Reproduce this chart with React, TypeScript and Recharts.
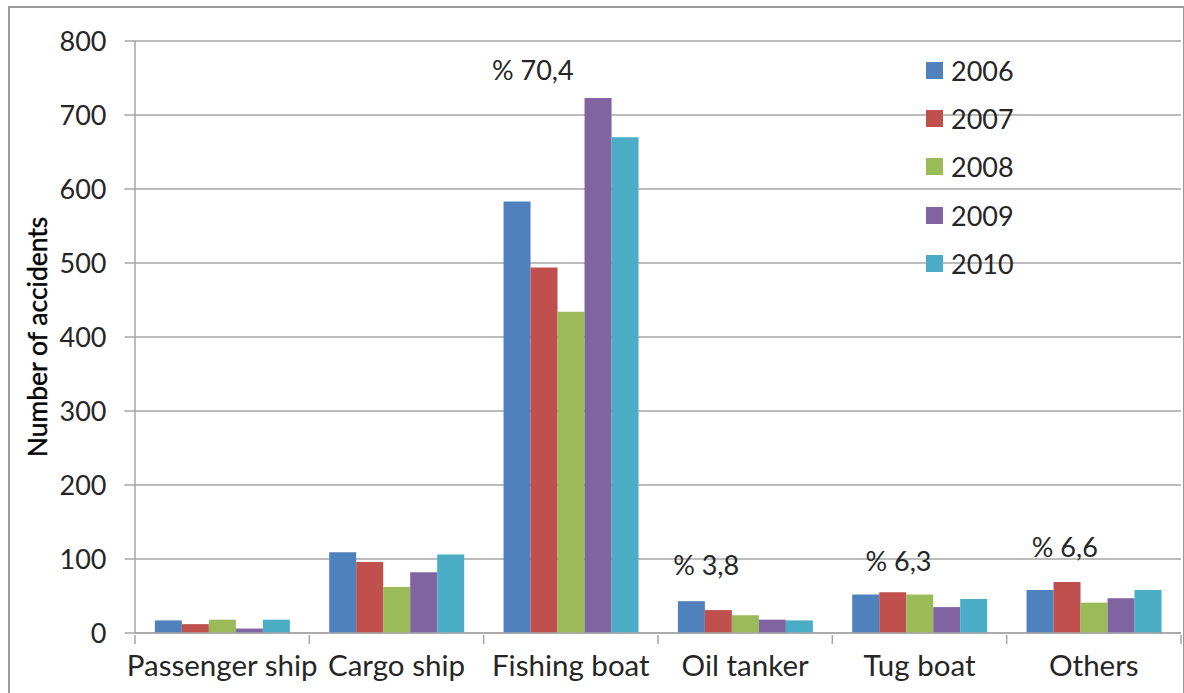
import React from 'react';
import {
  BarChart,
  Bar,
  XAxis,
  YAxis,
  CartesianGrid,
  Legend,
  ReferenceDot,
} from 'recharts';

// ship types on the category axis
const categories = ['Passenger ship', 'Cargo ship', 'Fishing boat', 'Oil tanker', 'Tug boat', 'Others'];

// accidents per year for each ship type
const years = ['2006', '2007', '2008', '2009', '2010'];
const acc2006 = [17, 109, 583, 43, 52, 58];
const acc2007 = [12, 96, 494, 31, 55, 69];
const acc2008 = [18, 62, 434, 24, 52, 41];
const acc2009 = [6, 82, 723, 18, 35, 47];
const acc2010 = [18, 106, 670, 17, 46, 58];

const yTicks = [0, 100, 200, 300, 400, 500, 600, 700, 800];

// share notes written above some groups
const noteCategories = ['Fishing boat', 'Oil tanker', 'Tug boat', 'Others'];
const noteTexts = ['% 70,4', '% 3,8', '% 6,3', '% 6,6'];

const series = [acc2006, acc2007, acc2008, acc2009, acc2010];
const colors = ['#4F81BD', '#C0504D', '#9BBB59', '#8064A2', '#4BACC6'];

// label placement relative to the tallest bar in the group
const noteShift = [
  { dx: -38, dy: -28 },
  { dx: -39, dy: -37 },
  { dx: -21, dy: -32 },
  { dx: -29, dy: -35 },
];

const FONT = 'Lato, "Open Sans", sans-serif';
const TEXT = '#262626';
const GRID = '#a6a6a6';

const data = categories.map((name, i) => {
  const row: Record<string, string | number> = { name };
  years.forEach((y, k) => {
    row[y] = series[k][i];
  });
  return row;
});

const groupMax = (cat: string) => {
  const i = categories.indexOf(cat);
  return Math.max(...series.map((s) => s[i]));
};

const CategoryTick = (props: any) => {
  const { x, y, payload, index } = props;
  const half = payload?.offset ?? 87;
  return (
    <g>
      <line x1={x - half} y1={y} x2={x - half} y2={y + 9} stroke={GRID} strokeWidth={1.5} />
      {index === categories.length - 1 && (
        <line x1={x + half} y1={y} x2={x + half} y2={y + 9} stroke={GRID} strokeWidth={1.5} />
      )}
      <text x={x} y={y + 41} textAnchor="middle" fill={TEXT} fontSize={29.5} fontFamily={FONT}>
        {payload.value}
      </text>
    </g>
  );
};

const YTitle = (props: any) => {
  const { viewBox } = props;
  const cx = 37;
  const cy = viewBox.y + viewBox.height / 2;
  return (
    <text
      x={cx}
      y={cy}
      transform={`rotate(-90, ${cx}, ${cy})`}
      textAnchor="middle"
      dominantBaseline="central"
      fill="#000"
      stroke="#000"
      strokeWidth={0.4}
      fontSize={26.5}
      fontFamily={FONT}
    >
      Number of accidents
    </text>
  );
};

const noteLabel = (text: string, dx: number, dy: number) => (props: any) => {
  const { viewBox } = props;
  return (
    <text
      x={viewBox.x + dx}
      y={viewBox.y + dy}
      textAnchor="middle"
      dominantBaseline="central"
      fill={TEXT}
      fontSize={27}
      fontFamily={FONT}
    >
      {text}
    </text>
  );
};

const LegendBox = (props: any) => {
  const { payload } = props;
  return (
    <div style={{ fontFamily: FONT }}>
      {(payload || []).map((entry: any) => (
        <div
          key={entry.value}
          style={{ display: 'flex', alignItems: 'center', height: 48.3 }}
        >
          <span
            style={{
              display: 'inline-block',
              width: 17,
              height: 17,
              background: entry.color,
              marginRight: 8,
            }}
          />
          <span style={{ fontSize: 27, color: TEXT }}>{entry.value}</span>
        </div>
      ))}
    </div>
  );
};

export default function App() {
  return (
    <div
      style={{
        position: 'absolute',
        left: 0,
        top: 0,
        width: 1184,
        height: 693,
        overflow: 'hidden',
        background: '#fff',
      }}
    >
      <div
        style={{
          position: 'absolute',
          left: 8,
          top: 6,
          width: 1173,
          height: 740,
          border: '2px solid #9a9a9a',
        }}
      />
      <div style={{ position: 'absolute', left: 0, top: 0 }}>
        <BarChart
          width={1184}
          height={693}
          data={data}
          margin={{ top: 41, right: 3, left: 0, bottom: 0 }}
          barCategoryGap="11.4%"
          barGap={0}
        >
          <CartesianGrid vertical={false} stroke={GRID} strokeWidth={1.5} />
          <XAxis
            dataKey="name"
            height={60}
            interval={0}
            tickSize={0}
            tickLine={false}
            axisLine={{ stroke: GRID, strokeWidth: 1.5 }}
            tick={<CategoryTick />}
          />
          <YAxis
            width={135}
            domain={[0, 800]}
            ticks={yTicks}
            interval={0}
            tickSize={10.5}
            tickMargin={18}
            axisLine={{ stroke: GRID, strokeWidth: 1.5 }}
            tickLine={{ stroke: GRID, strokeWidth: 1.5 }}
            tick={{ fill: TEXT, fontSize: 27, fontFamily: FONT }}
            label={<YTitle />}
          />
          {years.map((y, k) => (
            <Bar key={y} dataKey={y} fill={colors[k]} isAnimationActive={false} />
          ))}
          {noteCategories.map((cat, i) => (
            <ReferenceDot
              key={cat}
              x={cat}
              y={groupMax(cat)}
              r={0}
              ifOverflow="visible"
              fill="none"
              stroke="none"
              label={noteLabel(noteTexts[i], noteShift[i].dx, noteShift[i].dy)}
            />
          ))}
          <Legend
            layout="horizontal"
            verticalAlign="middle"
            align="center"
            content={<LegendBox />}
            wrapperStyle={{ top: 46, left: 926, width: 140, height: 250 }}
          />
        </BarChart>
      </div>
    </div>
  );
}
